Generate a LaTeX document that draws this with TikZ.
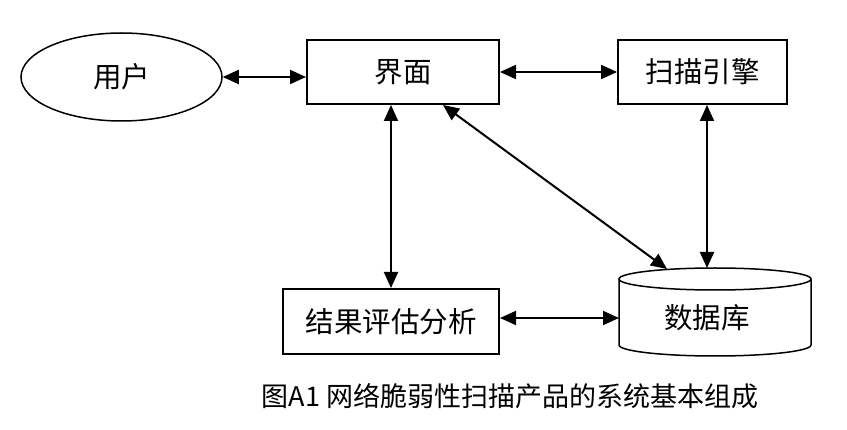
\documentclass[tikz,border=0pt]{standalone}
\usepackage{fontspec}
\setmainfont{Noto Sans CJK SC}
\usetikzlibrary{shapes.geometric,arrows.meta}
\tikzset{box/.style={draw, line width=2pt, inner sep=0pt}}
\tikzset{link/.style={{Triangle[length=16pt,width=14pt]}-{Triangle[length=16pt,width=14pt]}, line width=2pt}}

\begin{document}
\begin{tikzpicture}[x=1pt, y=-1pt, every node/.style={font=\fontsize{28.5pt}{32pt}\selectfont}]
    \useasboundingbox (0,0) rectangle (847,430);
% Parts
    \node[ellipse, draw, line width=1.5pt, inner sep=0pt, minimum width=201pt, minimum height=88pt] (user) at (121.5,77) {用户};
    \node[box, minimum width=192pt, minimum height=64pt] (ui) at (403,72) {界面\hspace{42pt}};
    \node[box, minimum width=169pt, minimum height=64pt] (scan) at (702.5,72) {扫描引擎\hspace{15pt}};
    \node[box, minimum width=216pt, minimum height=65pt] (result) at (391,321.5) {结果评估分析};
% Database
    \draw[line width=1.5pt] (715,279) ellipse[x radius=96, y radius=11];
    \draw[line width=1.5pt] (619,279) -- (619,345) arc[start angle=180, end angle=0, x radius=96, y radius=11] -- (811,279);
    \node (db) at (707,318) {数据库};
    \coordinate (dbtop) at (707,268);
    \coordinate (dbtip) at (667,269);
    \coordinate (dbside) at (619,318);
% Arrows
    \draw[link] (user.east) -- (user.east -| ui.west);
    \draw[link] (ui) -- (scan);
    \draw[link] (ui.south -| result.north) -- (result.north);
    \draw[link] ([xshift=40pt]ui.south) -- (dbtip);
    \draw[link] (scan.south -| dbtop) -- (dbtop);
    \draw[link] (result.east |- dbside) -- (dbside);
% Caption
    \node[font=\fontsize{27pt}{30pt}\selectfont] (caption) at (510,396) {图A1 网络脆弱性扫描产品的系统基本组成};
\end{tikzpicture}
\end{document}
